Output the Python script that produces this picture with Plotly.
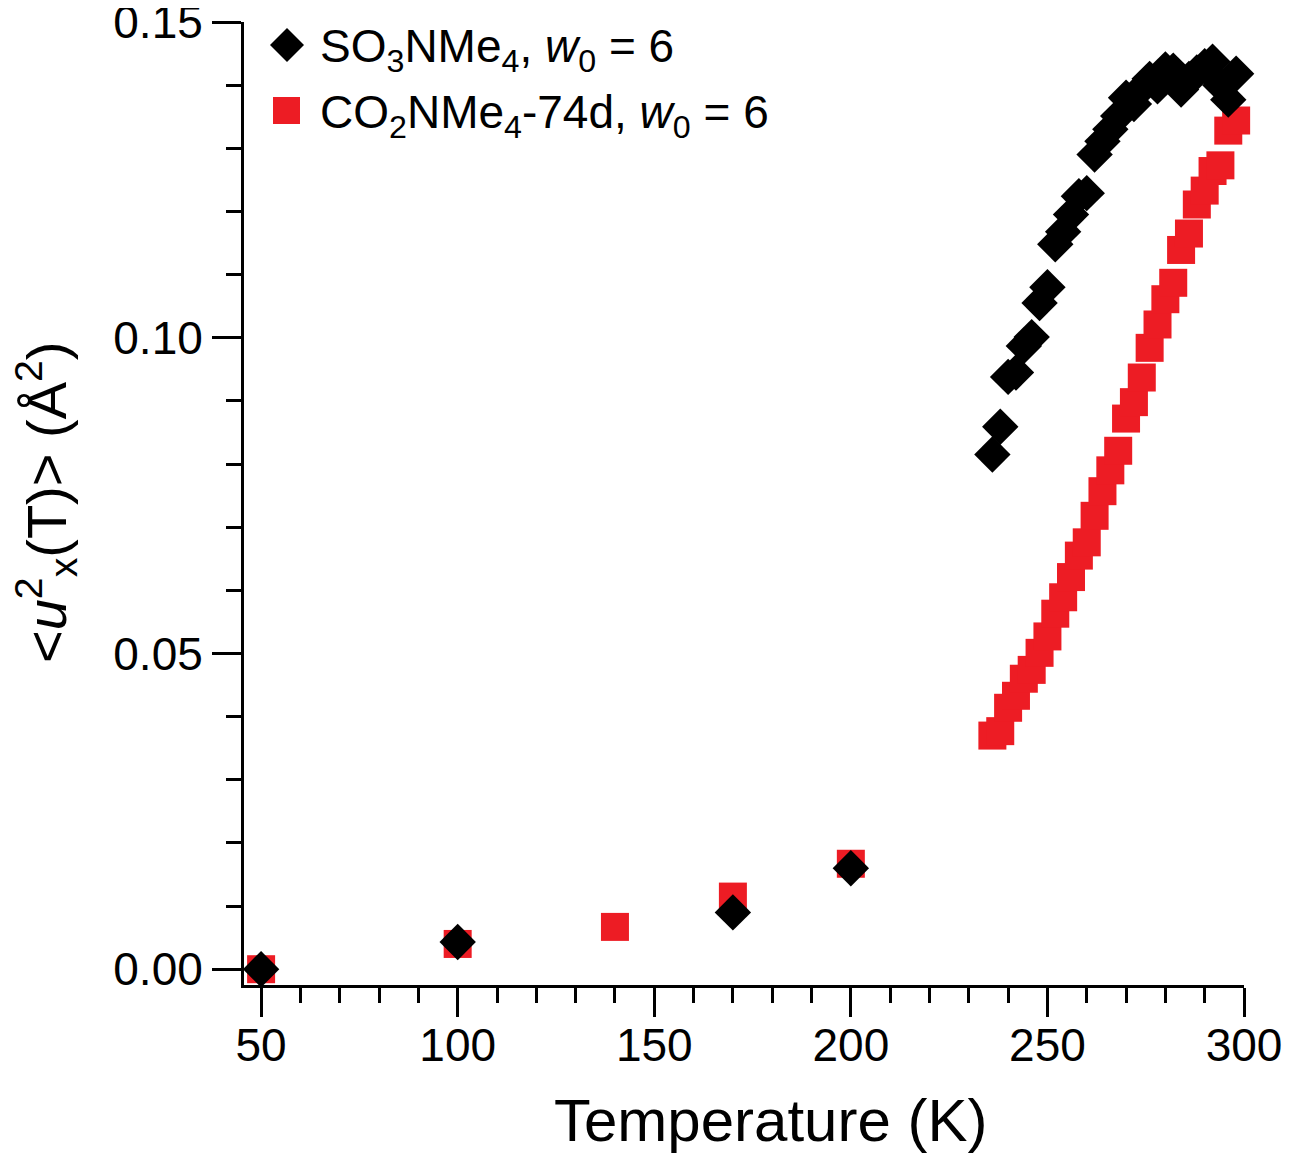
import plotly.graph_objects as go

# ---- data ----
so3_T = [50, 100, 170, 200,
         236, 238, 240, 242, 244, 246, 248, 250, 252, 254, 256, 258, 260,
         262, 264, 266, 268, 270, 272, 274, 276, 278, 280, 282, 284, 286,
         288, 290, 292, 294, 296, 298]
so3_u = [0.0000, 0.0043, 0.0090, 0.0160,
         0.0815, 0.0859, 0.0938, 0.0945, 0.0987, 0.1001, 0.1055, 0.1080,
         0.1148, 0.1168, 0.1195, 0.1224, 0.1229, 0.1290, 0.1311, 0.1330,
         0.1351, 0.1380, 0.1370, 0.1395, 0.1410, 0.1398, 0.1425, 0.1423,
         0.1393, 0.1410, 0.1420, 0.1430, 0.1437, 0.1400, 0.1377, 0.1418]

co2_T = [50, 100, 140, 170, 200,
         236, 238, 240, 242, 244, 246, 248, 250, 252, 254, 256, 258, 260,
         262, 264, 266, 268, 270, 272, 274, 276, 278, 280, 282, 284, 286,
         288, 290, 292, 294, 296, 298]
co2_u = [0.0000, 0.0040, 0.0067, 0.0115, 0.0167,
         0.0370, 0.0377, 0.0414, 0.0433, 0.0460, 0.0474, 0.0501, 0.0527,
         0.0563, 0.0589, 0.0621, 0.0655, 0.0676, 0.0718, 0.0757, 0.0790,
         0.0821, 0.0872, 0.0898, 0.0937, 0.0984, 0.1021, 0.1061, 0.1087,
         0.1139, 0.1165, 0.1211, 0.1233, 0.1264, 0.1273, 0.1328, 0.1344]

x_ticks = [50, 100, 150, 200, 250, 300]
y_ticks = [0.00, 0.05, 0.10, 0.15]
y_tick_text = ["0.00", "0.05", "0.10", "0.15"]

name_so3 = "SO<sub>3</sub>NMe<sub>4</sub>, <i>w</i><sub>0</sub> = 6"
name_co2 = "CO<sub>2</sub>NMe<sub>4</sub>-74d, <i>w</i><sub>0</sub> = 6"
x_title = "Temperature (K)"
y_title = "&lt;<i>u</i><sup>2</sup><sub>x</sub>(T)&gt; (Å<sup>2</sup>)"

FONT = "Arial, Liberation Sans, sans-serif"
RED = "#ED1C24"

# The page body has an 8 px margin, so the figure is drawn 8 px in from the
# window corner; size and margins are set so the plot lands where it should.
OFF = 8
W, H = 1290 - OFF, 1160 - OFF
ML, MR, MT, MB = 244 - OFF, 46, 22 - OFF, 175
PW, PH = W - ML - MR, H - MT - MB


def px(x_win):
    return (x_win - OFF - ML) / PW


def py(y_win):
    return (H - MB - (y_win - OFF)) / PH


fig = go.Figure()
fig.add_trace(go.Scatter(
    x=co2_T, y=co2_u, mode="markers", name=name_co2, showlegend=False,
    marker=dict(symbol="square", size=28, color=RED, line=dict(width=0)),
    cliponaxis=False))
fig.add_trace(go.Scatter(
    x=so3_T, y=so3_u, mode="markers", name=name_so3, showlegend=False,
    marker=dict(symbol="diamond", size=28, color="black", line=dict(width=0)),
    cliponaxis=False))

axis_common = dict(
    showline=True, linecolor="black", linewidth=3,
    ticks="outside", tickwidth=3, tickcolor="black", ticklen=29,
    showgrid=False, zeroline=False, mirror=False, automargin=False,
    ticklabeloverflow="allow",
    tickfont=dict(family=FONT, size=46, color="black"),
)

fig.update_xaxes(
    range=[45.65, 300], tickvals=x_ticks, ticklabelstandoff=-11,
    minor=dict(dtick=10, ticklen=15, tickwidth=3, tickcolor="black", ticks="outside", showgrid=False),
    **axis_common)
fig.update_yaxes(
    range=[-0.0025, 0.15], tickvals=y_ticks, ticktext=y_tick_text,
    minor=dict(dtick=0.01, ticklen=15, tickwidth=3, tickcolor="black", ticks="outside", showgrid=False),
    **axis_common)

# axis titles
fig.add_annotation(
    text=y_title, xref="paper", yref="paper", x=px(46), y=py(503), textangle=-90,
    showarrow=False, font=dict(family=FONT, size=56, color="black"),
    xanchor="center", yanchor="middle")
fig.add_annotation(
    text=x_title, xref="paper", yref="paper", x=px(770), y=py(1120),
    showarrow=False, font=dict(family=FONT, size=60, color="black"),
    xanchor="center", yanchor="middle")

# legend (keys drawn as shapes so they match the marker size of the plot)
fig.add_shape(type="path", xref="paper", yref="paper",
              path=(f"M {px(270)},{py(45)} L {px(287)},{py(28)} "
                    f"L {px(304)},{py(45)} L {px(287)},{py(62)} Z"),
              fillcolor="black", line=dict(width=0))
fig.add_shape(type="rect", xref="paper", yref="paper",
              x0=px(273), x1=px(300), y0=py(97), y1=py(124),
              fillcolor=RED, line=dict(width=0))
fig.add_annotation(
    text=name_so3, xref="paper", yref="paper", x=px(318), y=py(50),
    showarrow=False, font=dict(family=FONT, size=46, color="black"),
    xanchor="left", yanchor="middle")
fig.add_annotation(
    text=name_co2, xref="paper", yref="paper", x=px(318), y=py(115),
    showarrow=False, font=dict(family=FONT, size=46, color="black"),
    xanchor="left", yanchor="middle")

fig.update_layout(
    width=W, height=H,
    margin=dict(l=ML, r=MR, t=MT, b=MB, autoexpand=False),
    paper_bgcolor="white", plot_bgcolor="white",
    font=dict(family=FONT, color="black"),
    showlegend=False,
)

fig.write_html("out.html")
